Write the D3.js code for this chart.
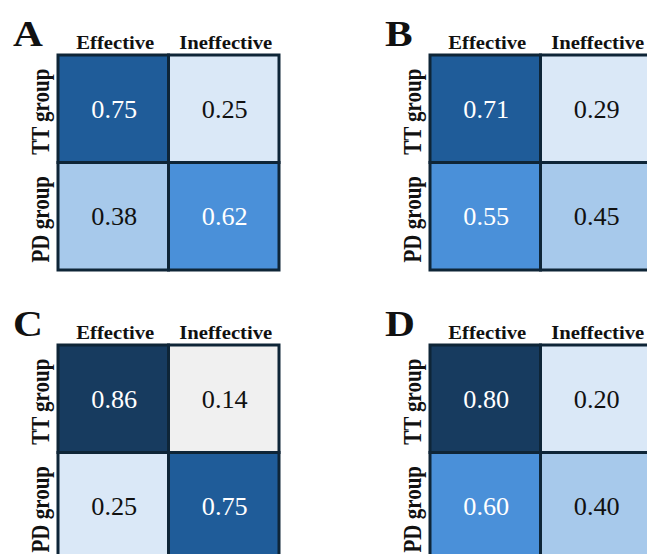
<!DOCTYPE html>
<html>
<head>
<meta charset="utf-8">
<script src="https://cdn.jsdelivr.net/npm/d3@7/dist/d3.min.js"></script>
<style>
  html, body { margin: 0; padding: 0; background: #fff; overflow: hidden; }
  svg { display: block; }
  text { font-family: "Liberation Serif", "Times New Roman", Times, serif; }
</style>
</head>
<body>
<svg id="chart" width="647" height="554"></svg>
<script>
// Column and row categories shared by every matrix
const columns = ["Effective", "Ineffective"];
const rows = ["TT group", "PD group"];
const panelLetters = ["A", "B", "C", "D"];

// Proportions per matrix, row by row (TT group, PD group)
const valuesA = [[0.75, 0.25], [0.38, 0.62]];
const valuesB = [[0.71, 0.29], [0.55, 0.45]];
const valuesC = [[0.86, 0.14], [0.25, 0.75]];
const valuesD = [[0.80, 0.20], [0.60, 0.40]];

// Binned blue colour scale
const colourBreaks = [0.15, 0.3, 0.5, 0.7, 0.78];
const colourSteps = ["#f0f0f0", "#dae8f7", "#a7c9eb", "#4a90d9", "#1f5c99", "#173b5f"];

const panels = [
  { letter: panelLetters[0], values: valuesA, x: 58,  y: 55 },
  { letter: panelLetters[1], values: valuesB, x: 430, y: 55 },
  { letter: panelLetters[2], values: valuesC, x: 58,  y: 345 },
  { letter: panelLetters[3], values: valuesD, x: 430, y: 345 }
];

const gridW = 221, gridH = 215;
const stretch = 1.15;
const borderColour = "#0e2537";

const colour = d3.scaleThreshold().domain(colourBreaks).range(colourSteps);
const xScale = d3.scaleBand().domain(columns).range([0, gridW]);
const yScale = d3.scaleBand().domain(rows).range([0, gridH]);

const svg = d3.select("#chart");

panels.forEach(p => {
  const g = svg.append("g").attr("transform", `translate(${p.x},${p.y})`);

  const cells = rows.flatMap((r, i) => columns.map((c, j) => ({ row: r, col: c, v: p.values[i][j] })));

  g.selectAll("rect.cell")
    .data(cells)
    .join("rect")
    .attr("class", "cell")
    .attr("x", d => xScale(d.col))
    .attr("y", d => yScale(d.row))
    .attr("width", xScale.bandwidth())
    .attr("height", yScale.bandwidth())
    .attr("fill", d => colour(d.v))
    .attr("stroke", borderColour)
    .attr("stroke-width", 3);

  g.selectAll("text.value")
    .data(cells)
    .join("text")
    .attr("class", "value")
    .attr("transform", d => `translate(${xScale(d.col) + xScale.bandwidth() / 2 + 1},${yScale(d.row) + yScale.bandwidth() / 2 + 9}) scale(1.05,1)`)
    .attr("text-anchor", "middle")
    .attr("font-size", 25)
    .attr("fill", d => d.v >= 0.5 ? "#ffffff" : "#111111")
    .text(d => d.v.toFixed(2));

  // Column headers
  g.selectAll("text.col")
    .data(columns)
    .join("text")
    .attr("class", "col")
    .attr("transform", d => `translate(${xScale(d) + xScale.bandwidth() / 2 + 2},-6) scale(${stretch},1)`)
    .attr("text-anchor", "middle")
    .attr("font-size", 18)
    .attr("font-weight", "bold")
    .attr("fill", "#111")
    .text(d => d);

  // Row headers, rotated
  g.selectAll("text.row")
    .data(rows)
    .join("text")
    .attr("class", "row")
    .attr("transform", d => `translate(-9,${yScale(d) + yScale.bandwidth() / 2 + 3}) scale(${stretch},1) rotate(-90)`)
    .attr("text-anchor", "middle")
    .attr("font-size", 21)
    .attr("font-weight", "bold")
    .attr("fill", "#111")
    .text(d => d);

  // Panel letter
  g.append("text")
    .attr("transform", `translate(-45,-9) scale(${stretch},1)`)
    .attr("font-size", 36)
    .attr("font-weight", "bold")
    .attr("fill", "#111")
    .text(p.letter);
});
</script>
</body>
</html>
